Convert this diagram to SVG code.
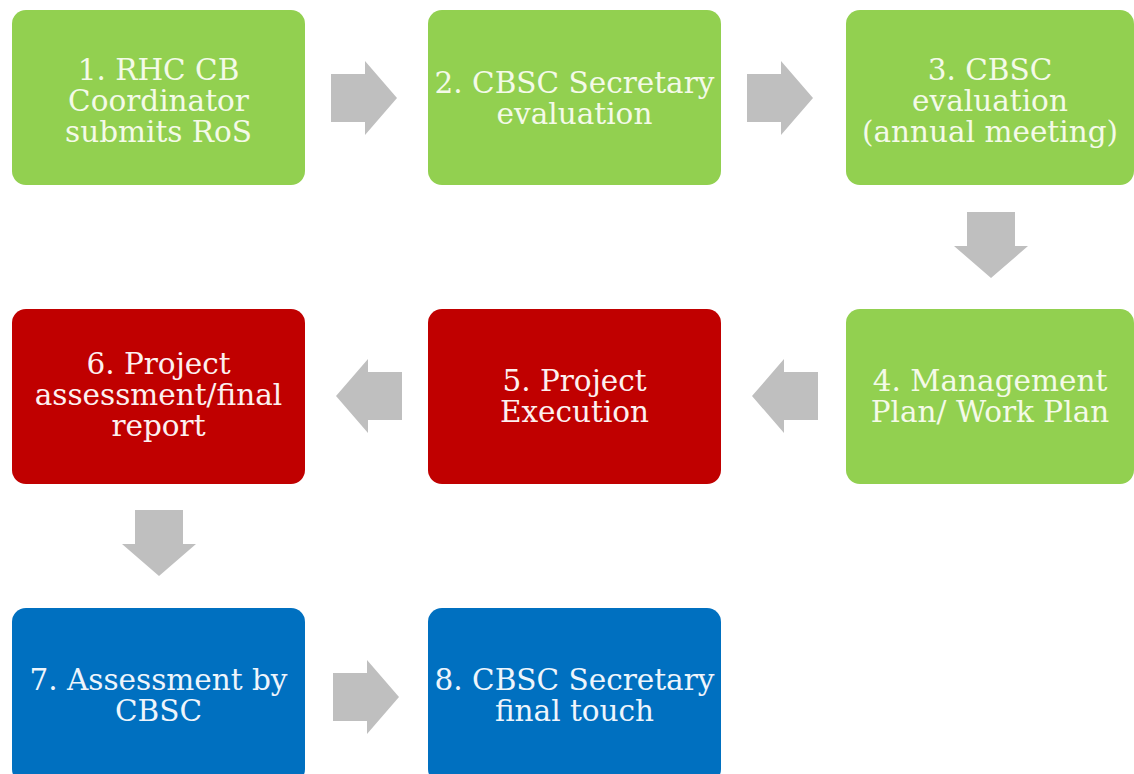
<svg xmlns="http://www.w3.org/2000/svg" xmlns:xlink="http://www.w3.org/1999/xlink" width="1134" height="774" viewBox="0 0 1134 774">
<style>
.box{stroke:none}
.g{fill:#92d050}
.r{fill:#c00000}
.b{fill:#0070c0}
.t{font-family:"DejaVu Serif","Liberation Serif",serif;font-size:29.5px;text-anchor:middle}
.tg{fill:#f4fae8}
.tr{fill:#fdf0f0}
.tb{fill:#eef5fc}
.arr{fill:#bfbfbf}
</style>
<defs>
<path id="arrow" d="M0,-24 L34,-24 L34,-37 L66,0 L34,37 L34,24 L0,24 Z"/>
</defs>
<rect width="1134" height="774" fill="#ffffff"/>
<g id="connectors" class="arr">
<use xlink:href="#arrow" transform="translate(331,98)"/>
<use xlink:href="#arrow" transform="translate(747,98)"/>
<use xlink:href="#arrow" transform="translate(991,212) rotate(90)"/>
<use xlink:href="#arrow" transform="translate(818,396) rotate(180)"/>
<use xlink:href="#arrow" transform="translate(402,396) rotate(180)"/>
<use xlink:href="#arrow" transform="translate(159,510) rotate(90)"/>
<use xlink:href="#arrow" transform="translate(333,697)"/>
</g>
<g id="node1">
<rect class="box g" x="12" y="10" width="293" height="175" rx="14"/>
<text class="t tg" x="158.5"><tspan x="158.5" y="80">1. RHC CB</tspan><tspan x="158.5" y="111">Coordinator</tspan><tspan x="158.5" y="142">submits RoS</tspan></text>
</g>
<g id="node2">
<rect class="box g" x="428" y="10" width="293" height="175" rx="14"/>
<text class="t tg"><tspan x="574.5" y="93">2. CBSC Secretary</tspan><tspan x="574.5" y="124">evaluation</tspan></text>
</g>
<g id="node3">
<rect class="box g" x="846" y="10" width="288" height="175" rx="14"/>
<text class="t tg"><tspan x="990" y="80">3. CBSC</tspan><tspan x="990" y="111">evaluation</tspan><tspan x="990" y="142">(annual meeting)</tspan></text>
</g>
<g id="node4">
<rect class="box g" x="846" y="309" width="288" height="175" rx="14"/>
<text class="t tg"><tspan x="990" y="391">4. Management</tspan><tspan x="990" y="422">Plan/ Work Plan</tspan></text>
</g>
<g id="node5">
<rect class="box r" x="428" y="309" width="293" height="175" rx="14"/>
<text class="t tr"><tspan x="574.5" y="391">5. Project</tspan><tspan x="574.5" y="422">Execution</tspan></text>
</g>
<g id="node6">
<rect class="box r" x="12" y="309" width="293" height="175" rx="14"/>
<text class="t tr"><tspan x="158.5" y="374">6. Project</tspan><tspan x="158.5" y="405">assessment/final</tspan><tspan x="158.5" y="436">report</tspan></text>
</g>
<g id="node7">
<rect class="box b" x="12" y="608" width="293" height="175" rx="14"/>
<text class="t tb"><tspan x="158.5" y="690">7. Assessment by</tspan><tspan x="158.5" y="721">CBSC</tspan></text>
</g>
<g id="node8">
<rect class="box b" x="428" y="608" width="293" height="175" rx="14"/>
<text class="t tb"><tspan x="574.5" y="690">8. CBSC Secretary</tspan><tspan x="574.5" y="721">final touch</tspan></text>
</g>
</svg>
